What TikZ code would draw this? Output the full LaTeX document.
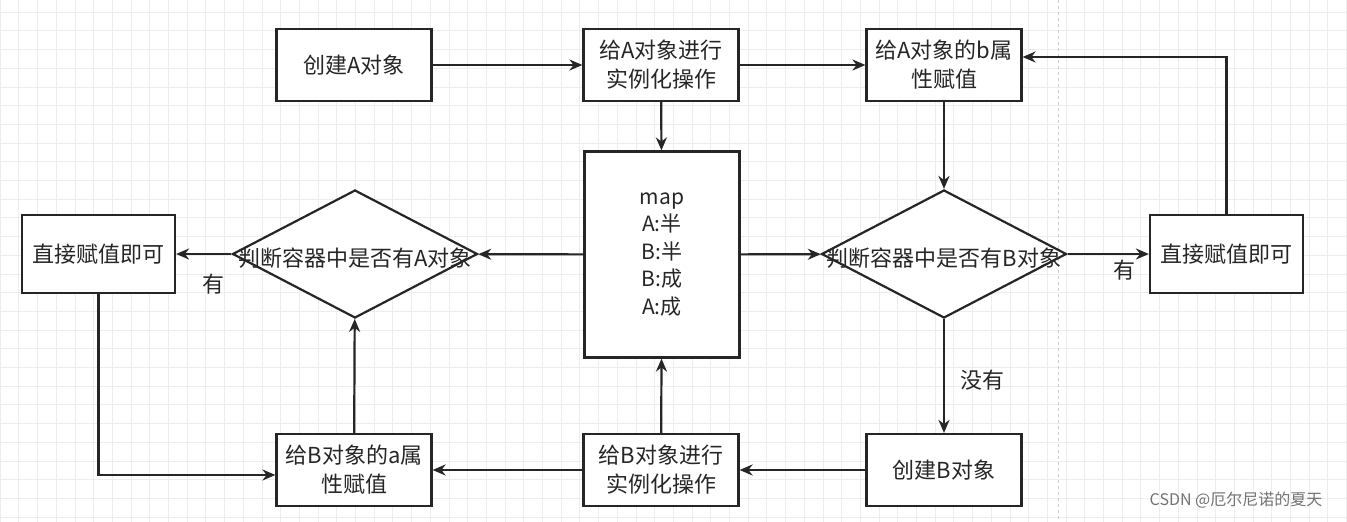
\documentclass[tikz,border=0pt]{standalone}
\usepackage{fontspec}
\setmainfont{Noto Sans CJK SC}
\usetikzlibrary{shapes.geometric,arrows.meta}
\begin{document}
\begin{tikzpicture}[x=1pt,y=-1pt,
  box/.style={draw=black!85, line width=2.2pt, fill=white, minimum width=155pt, minimum height=72pt, inner sep=0pt, align=center, font=\fontsize{22}{29}\selectfont, text=black!85},
  dia/.style={draw=black!85, diamond, line width=2.2pt, fill=white, minimum width=245pt, minimum height=128pt, inner sep=0pt},
  arr/.style={draw=black!85, line width=2.2pt, -{Stealth[length=13pt,width=11pt]}},
  lbl/.style={font=\fontsize{22}{26}\selectfont, text=black!85},
  gridline/.style={black!7, line width=0.6pt}]
\fill[white] (0,0) rectangle (1347,522);
\useasboundingbox (0,0) rectangle (1347,522);
\foreach \gx in {0,18.7,...,1347} {\draw[gridline] (\gx,0) -- (\gx,522);}
\foreach \gy in {12,30.7,...,522} {\draw[gridline] (0,\gy) -- (1347,\gy);}
\draw[black!20, dashed, line width=0.6pt] (1058,0) -- (1058,522);

\node[box] (ca) at (354,65) {创建A对象};
\node[box] (ia) at (661,65) {给A对象进行\\实例化操作};
\node[box] (ba) at (944,65) {给A对象的b属\\性赋值};
\node[box, minimum height=206pt, font=\fontsize{21}{27.5}\selectfont] (map) at (662,254.5) {map\\A:半\\B:半\\B:成\\A:成};
\node[dia, label={[lbl, yshift=-4pt]center:判断容器中是否有A对象}] (dA) at (355,254) {};
\node[dia, label={[lbl, yshift=-4pt]center:判断容器中是否有B对象}] (dB) at (944,254) {};
\node[box, minimum width=153pt, minimum height=78pt] (la) at (98.5,254) {直接赋值即可};
\node[box, minimum width=153pt, minimum height=78pt] (ra) at (1226.5,254) {直接赋值即可};
\node[box] (bb) at (354,470) {给B对象的a属\\性赋值};
\node[box] (ib) at (661,470) {给B对象进行\\实例化操作};
\node[box] (cb) at (944,470) {创建B对象};

\draw[arr] (ca) -- (ia);
\draw[arr] (ia) -- (ba);
\draw[arr] (ia) -- (map);
\draw[arr] (ba) -- (dB);
\draw[arr] (map) -- (dB);
\draw[arr] (dB) -- (ra);
\draw[arr] (ra.north) |- ([yshift=8pt]ba.east);
\draw[arr] (dB) -- (cb);
\draw[arr] (cb) -- (ib);
\draw[arr] (ib) -- (map);
\draw[arr] (ib) -- (bb);
\draw[arr] (bb) -- (dA);
\draw[arr] (map) -- (dA);
\draw[arr] (dA) -- (la);
\draw[arr] (la.south) |- ([yshift=-5pt]bb.west);

\node[lbl] (y1) at (213,284) {有};
\node[lbl] (y2) at (1124,270) {有};
\node[lbl] (n1) at (982,380) {没有};
\node[font=\fontsize{16}{16}\selectfont, text=black!55] (wm) at (1236,500) {CSDN @厄尔尼诺的夏天};
\end{tikzpicture}
\end{document}
